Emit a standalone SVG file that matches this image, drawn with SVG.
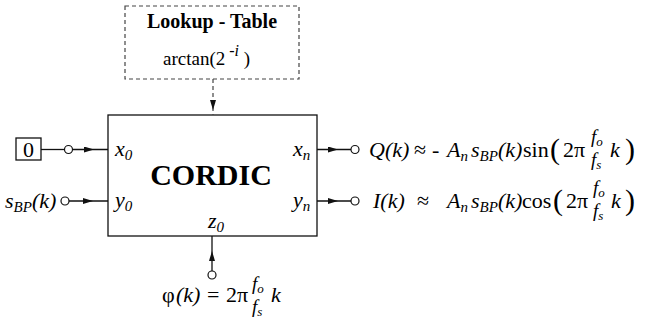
<svg xmlns="http://www.w3.org/2000/svg" width="646" height="322" viewBox="0 0 646 322">
<defs>
<style>
text, tspan { font-family: 'Liberation Serif', serif !important; fill: #000; }
.m { font-size: 22px; }
.i { font-style: italic; }
.sub { font-size: 15px; font-style: italic; }
.fr { font-size: 19px; font-style: italic; }
.fs { font-size: 13px; font-style: italic; }
.big { font-size: 30px; }
.b { font-weight: bold; }
.ln { stroke: #111; stroke-width: 1.3; fill: none; }
.dash { stroke: #444; stroke-width: 1.2; fill: none; stroke-dasharray: 4,3; }
.pin { stroke: #111; stroke-width: 1.2; fill: #fff; }
</style>
<marker id="ah" viewBox="0 0 10 6" refX="10" refY="3" markerWidth="10" markerHeight="6" markerUnits="userSpaceOnUse" orient="auto">
<path d="M0,0 L10,3 L0,6 z" fill="#111"/>
</marker>
</defs>

<g id="lookup">
<rect class="dash" x="125" y="6" width="174" height="73"/>
<text class="b" x="212" y="28" font-size="20" text-anchor="middle">Lookup - Table</text>
<text x="163" y="65" font-size="19">arctan(2<tspan font-size="16" font-style="italic" dy="-9"> -i</tspan><tspan dy="9"> )</tspan></text>
</g>

<g id="cordic">
<rect class="ln" x="108" y="115" width="209" height="121" fill="#fff"/>
<text class="b big" x="211" y="185" text-anchor="middle">CORDIC</text>
<text class="m i" x="115" y="156">x<tspan class="sub" dy="4">0</tspan></text>
<text class="m i" x="115" y="207">y<tspan class="sub" dy="4">0</tspan></text>
<text class="m i" x="208" y="228">z<tspan class="sub" dy="4">0</tspan></text>
<text class="m i" x="293" y="156">x<tspan class="sub" dy="4">n</tspan></text>
<text class="m i" x="293" y="207">y<tspan class="sub" dy="4">n</tspan></text>
</g>

<g id="zero">
<rect class="ln" x="16" y="138" width="25" height="22"/>
<text class="m" x="28.5" y="157" text-anchor="middle">0</text>
</g>

<g id="sbp">
<text class="m i" x="5" y="208">s<tspan class="sub" dy="4">BP</tspan><tspan dy="-4">(k)</tspan></text>
</g>

<g id="phi">
<text class="m" x="162" y="302">φ<tspan class="i" x="176">(k)</tspan><tspan x="207">=</tspan><tspan x="226">2π</tspan></text>
<text class="fr" x="252" y="290">f<tspan class="fs" dy="3">o</tspan></text>
<text class="fr" x="252" y="313">f<tspan class="fs" dy="3">s</tspan></text>
<text class="m i" x="271" y="302">k</text>
</g>

<g id="outQ">
<text class="m i" x="369" y="157">Q(k)</text>
<text class="m" x="414" y="157">≈</text>
<text class="m" x="432" y="157">-</text>
<text class="m i" x="447" y="157">A<tspan class="sub" dy="4">n</tspan></text>
<text class="m i" x="471" y="157">s<tspan class="sub" dy="4">BP</tspan><tspan dy="-4">(k)</tspan></text>
<text class="m" x="523" y="157">sin</text>
<text class="big" x="550" y="159">(</text>
<text class="m" x="563" y="157">2π</text>
<text class="fr" x="591" y="143">f<tspan class="fs" dy="3">o</tspan></text>
<text class="fr" x="591" y="166">f<tspan class="fs" dy="3">s</tspan></text>
<text class="m i" x="610" y="157">k</text>
<text class="big" x="625" y="159">)</text>
</g>

<g id="outI">
<text class="m i" x="373" y="208">I(k)</text>
<text class="m" x="417" y="208">≈</text>
<text class="m i" x="447" y="208">A<tspan class="sub" dy="4">n</tspan></text>
<text class="m i" x="471" y="208">s<tspan class="sub" dy="4">BP</tspan><tspan dy="-4">(k)</tspan></text>
<text class="m" x="522" y="208">cos</text>
<text class="big" x="553" y="210">(</text>
<text class="m" x="566" y="208">2π</text>
<text class="fr" x="593" y="194">f<tspan class="fs" dy="3">o</tspan></text>
<text class="fr" x="593" y="217">f<tspan class="fs" dy="3">s</tspan></text>
<text class="m i" x="611" y="208">k</text>
<text class="big" x="625" y="210">)</text>
</g>

<g id="connectors">
<line class="dash" x1="213" y1="79" x2="213" y2="115"/>
<path d="M213,99 L213,110" stroke="none" marker-end="url(#ah)"/>
<line class="ln" x1="41" y1="149.5" x2="64.5" y2="149.5"/>
<line class="ln" x1="72.5" y1="149.5" x2="108" y2="149.5"/>
<path d="M80,149.5 L94,149.5" stroke="none" marker-end="url(#ah)"/>
<circle class="pin" cx="68.5" cy="149.5" r="4"/>
<line class="ln" x1="69" y1="201" x2="108" y2="201"/>
<path d="M80,201 L93,201" stroke="none" marker-end="url(#ah)"/>
<circle class="pin" cx="65" cy="201" r="4"/>
<line class="ln" x1="317" y1="149.5" x2="351" y2="149.5"/>
<path d="M325,149.5 L338,149.5" stroke="none" marker-end="url(#ah)"/>
<circle class="pin" cx="355" cy="149.5" r="4"/>
<line class="ln" x1="317" y1="201" x2="351" y2="201"/>
<path d="M325,201 L338,201" stroke="none" marker-end="url(#ah)"/>
<circle class="pin" cx="355" cy="201" r="4"/>
<line class="ln" x1="212" y1="236" x2="212" y2="271"/>
<path d="M212,262 L212,251" stroke="none" marker-end="url(#ah)"/>
<circle class="pin" cx="212" cy="275" r="4"/>
</g>
</svg>
